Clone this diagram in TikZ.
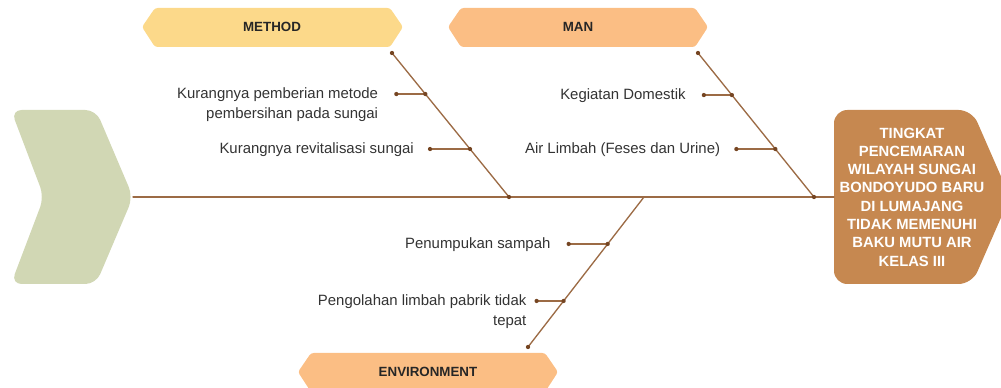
\documentclass[tikz,border=0pt]{standalone}
\usepackage{fontspec}
\setmainfont{Liberation Sans}
\usetikzlibrary{calc,positioning}
\definecolor{tailsage}{HTML}{D1D7B4}
\definecolor{headbrown}{HTML}{C68850}
\definecolor{methodyellow}{HTML}{FCD98A}
\definecolor{manorange}{HTML}{FBBE84}
\definecolor{bonebrown}{HTML}{9C6B45}
\definecolor{dotbrown}{HTML}{754522}
\definecolor{causegray}{HTML}{333333}
\tikzset{
  bone/.style={bonebrown,line width=1pt},
  cause/.style={font=\fontsize{11.2}{15}\selectfont,causegray,align=right,inner sep=0pt,anchor=base east},
  catlabel/.style={font=\fontsize{10}{12}\selectfont\bfseries,black!85,inner sep=0pt},
}
\newcommand{\bonedot}[1]{\fill[dotbrown] (#1) circle (1.6pt);}

\begin{document}
\begin{tikzpicture}[x=0.75pt,y=-0.75pt,line cap=round]
  \useasboundingbox (0,0) rectangle (1001,388);
  % tail and head
  \fill[tailsage,rounded corners=8pt] (11,110) -- (96,110) -- (133,197) -- (96,284) -- (11,284) -- (44,197) -- cycle;
  \fill[headbrown,rounded corners=10pt] (834,110) -- (972,110) -- (1010,197) -- (972,284) -- (834,284) -- cycle;
  \node[font=\fontsize{11.1}{13.7}\selectfont\bfseries,white,align=center,inner sep=0pt] (effect) at (912,197)
    {TINGKAT\\PENCEMARAN\\WILAYAH SUNGAI\\BONDOYUDO BARU\\DI LUMAJANG\\TIDAK MEMENUHI\\BAKU MUTU AIR\\KELAS III};
  % category banners
  \fill[methodyellow,rounded corners=2pt] (142,27) -- (155,8) -- (390,8) -- (403,27) -- (390,47) -- (155,47) -- cycle;
  \fill[manorange,rounded corners=2pt] (448,27) -- (461,8) -- (695,8) -- (708,27) -- (695,47) -- (461,47) -- cycle;
  \fill[manorange,rounded corners=2pt] (298,372) -- (311,353) -- (545,353) -- (558,372) -- (545,392) -- (311,392) -- cycle;
  \node[catlabel] (method) at (272,27) {METHOD};
  \node[catlabel] (man) at (578,27) {MAN};
  \node[catlabel] (environment) at (428,372) {ENVIRONMENT};
  % spine and main bones
  \coordinate (tail) at (133,197);
  \coordinate (head) at (834,197);
  \coordinate (mtop) at (392,53);   \coordinate (mend) at (509,197);
  \coordinate (ntop) at (698,53);   \coordinate (nend) at (814,197);
  \coordinate (estart) at (644,197); \coordinate (ebot) at (528,347);
  \draw[bone] (tail) -- (head);
  \draw[bone] (mtop) -- (mend);
  \draw[bone] (ntop) -- (nend);
  \draw[bone] (estart) -- (ebot);
  \foreach \p in {mtop,mend,ntop,nend,ebot} { \bonedot{\p} }
  % sub causes
  \foreach \nm/\from/\to/\t/\dx in {m1/mtop/mend/0.285/29, m2/mtop/mend/0.667/40,
                                     n1/ntop/nend/0.292/28, n2/ntop/nend/0.667/39,
                                     e1/estart/ebot/0.313/39, e2/estart/ebot/0.693/27} {
    \coordinate (\nm b) at ($(\from)!\t!(\to)$);
    \coordinate (\nm d) at ($(\nm b)+(-\dx,0)$);
    \draw[bone] (\nm d) -- (\nm b);
    \bonedot{\nm d} \bonedot{\nm b}
  }
  % two-line labels: base is the last line
  \node[cause] (m1l) at ($(m1d)+(-18,24.5)$) {Kurangnya pemberian metode\\pembersihan pada sungai};
  \node[cause] (m2l) at ($(m2d)+(-16,4.5)$) {Kurangnya revitalisasi sungai};
  \node[cause] (n1l) at ($(n1d)+(-18,4.5)$) {Kegiatan Domestik};
  \node[cause] (n2l) at ($(n2d)+(-16,4.5)$) {Air Limbah (Feses dan Urine)};
  \node[cause] (e1l) at ($(e1d)+(-18,4.5)$) {Penumpukan sampah};
  \node[cause] (e2l) at ($(e2d)+(-10,24.5)$) {Pengolahan limbah pabrik tidak\\tepat};
\end{tikzpicture}
\end{document}
